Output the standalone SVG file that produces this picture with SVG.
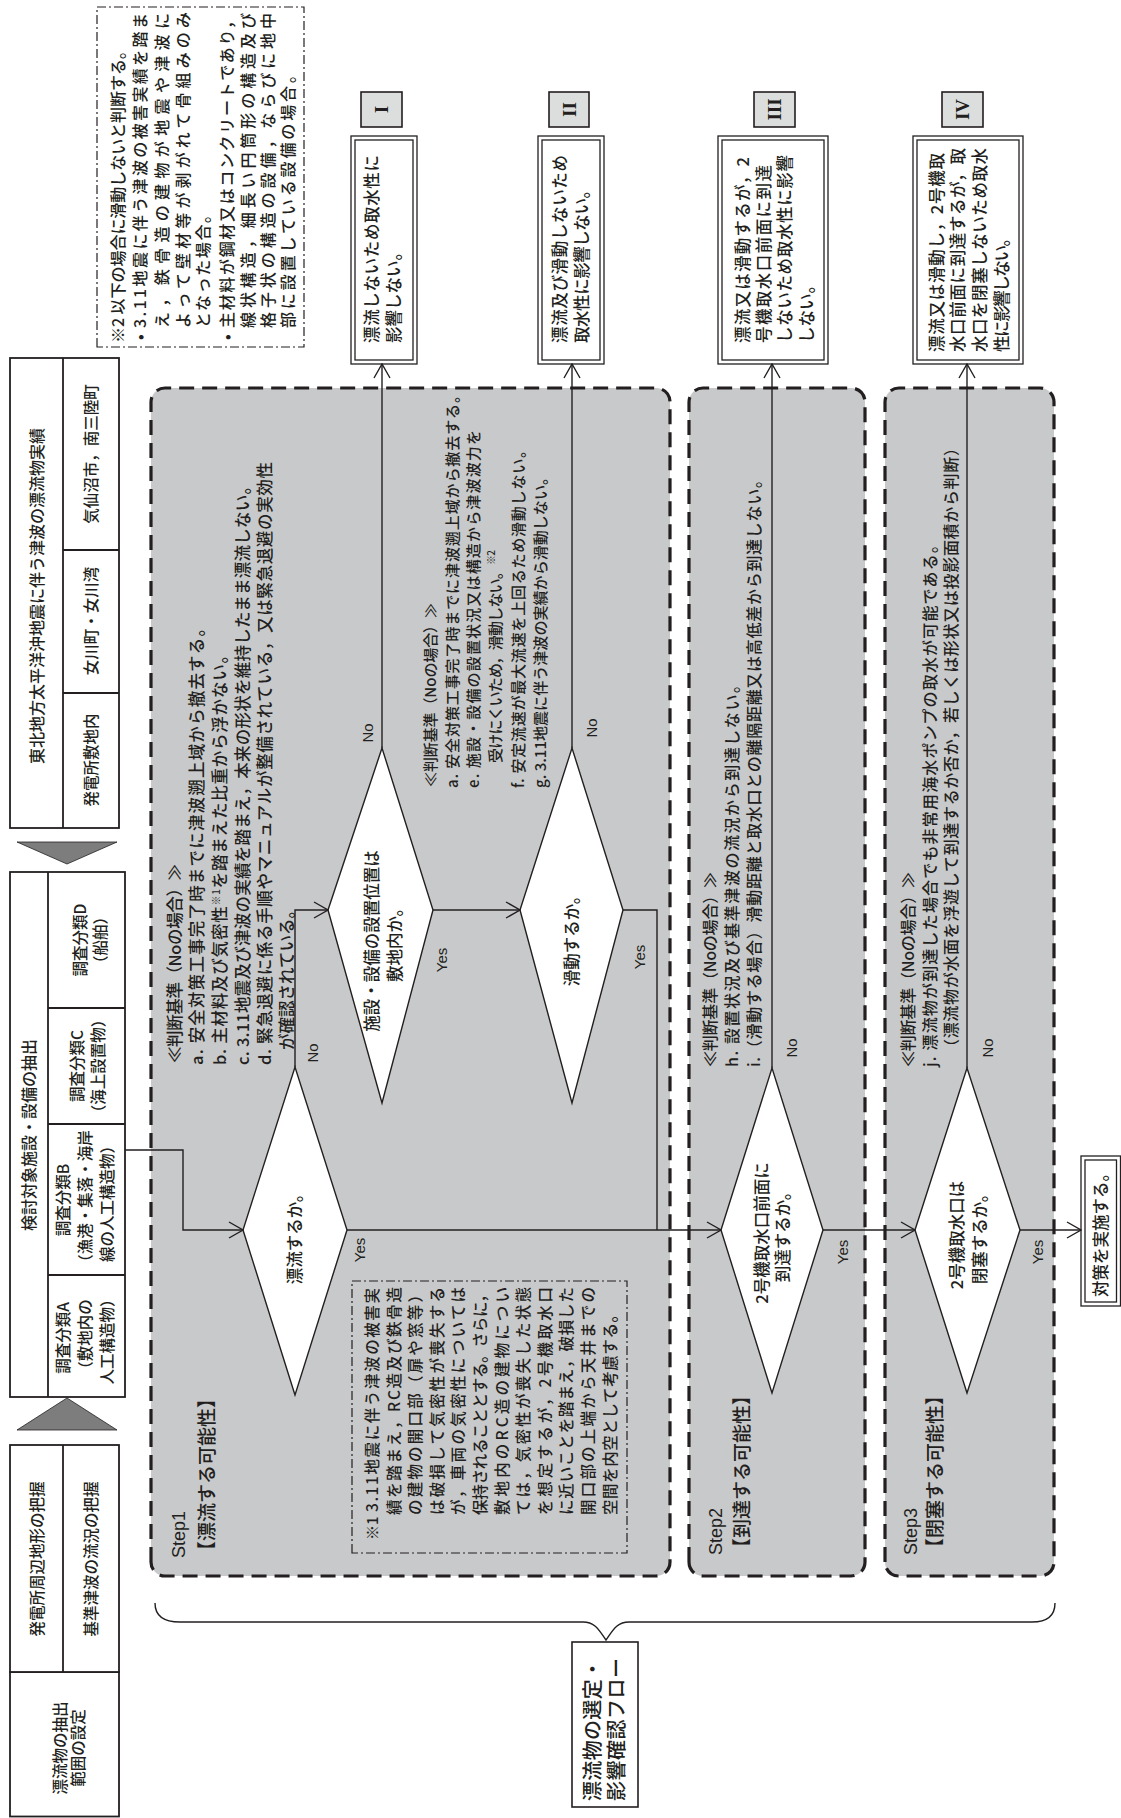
<svg xmlns="http://www.w3.org/2000/svg" width="1121" height="1818" viewBox="0 0 1121 1818">
<defs>
<style>
text{font-family:"Noto Sans CJK JP","Noto Sans",sans-serif;fill:#231f20;font-size:16px;font-weight:500}
.lat{font-family:"Liberation Sans",Arial,sans-serif;font-size:15px;font-weight:normal}
.mid{text-anchor:middle}
.tb{fill:#fff;stroke:#231f20;stroke-width:1.8}
.ln{fill:none;stroke:#231f20;stroke-width:1.8}
.panel{fill:#c8c9ca;stroke:#231f20;stroke-width:3.2;stroke-dasharray:15 8}
.dia{fill:#fff;stroke:#231f20;stroke-width:1.4}
.note{fill:none;stroke:#231f20;stroke-width:1.2;stroke-dasharray:9 3 2 3}
.bx{fill:#fff;stroke:#231f20;stroke-width:1.3}
.bxi{fill:none;stroke:#231f20;stroke-width:1.3}
.lab{fill:#dcdddd;stroke:#231f20;stroke-width:1.6}
.tri{fill:#7d7d7d;stroke:#231f20;stroke-width:0.8}
.con{fill:none;stroke:#231f20;stroke-width:1.4}
.rom{font-family:"Liberation Serif","Times New Roman",serif;font-size:19px;font-weight:bold;text-anchor:middle}
.sup{font-size:10px}
</style>
<marker id="ah" viewBox="0 0 16 18" refX="15" refY="9" markerWidth="16" markerHeight="18" markerUnits="userSpaceOnUse" orient="auto">
<path d="M1,1 L15,9 L1,17" fill="none" stroke="#231f20" stroke-width="1.4"/>
</marker>
</defs>
<rect width="1121" height="1818" fill="#fff"/>
<g transform="translate(0,1818) rotate(-90)">

<!-- panels -->
<g id="step1">
<rect class="panel" x="242" y="151" width="1188" height="519" rx="14"/>
<text x="260" y="185" class="lat" style="font-size:18px">Step1</text>
<text x="258" y="214" style="font-size:19px">【漂流する可能性】</text>
</g>
<g id="step2">
<rect class="panel" x="242" y="689" width="1188" height="176" rx="14"/>
<text x="263" y="722" class="lat" style="font-size:18px">Step2</text>
<text x="261" y="749" style="font-size:19px">【到達する可能性】</text>
</g>
<g id="step3">
<rect class="panel" x="242" y="885" width="1188" height="169" rx="14"/>
<text x="263" y="917" class="lat" style="font-size:18px">Step3</text>
<text x="261" y="942" style="font-size:19px">【閉塞する可能性】</text>
</g>

<!-- brace and title -->
<g id="brace">
<path class="con" d="M215,155 Q196,155 196,180 L196,583 C196,596 186,600 178,606 C186,612 196,616 196,629 L196,1032 Q196,1055 215,1055"/>
</g>
<g id="title">
<rect class="tb" x="11" y="572" width="165" height="66" style="stroke-width:1.6"/>
<text x="17" y="600" style="font-size:20px" textLength="142">漂流物の選定・</text>
<text x="17" y="624" style="font-size:20px" textLength="143">影響確認フロー</text>
</g>

<!-- tables -->
<g id="range">
<rect class="tb" x="1.5" y="10" width="144.5" height="109"/>
<text x="70" y="66" class="mid" style="font-size:15.5px">漂流物の抽出</text>
<text x="70" y="84" class="mid" style="font-size:15.5px">範囲の設定</text>
</g>
<g id="grasp">
<rect class="tb" x="146" y="10" width="227" height="109"/>
<line class="ln" x1="146" y1="63" x2="373" y2="63"/>
<text x="259" y="43" class="mid" style="font-size:15.5px">発電所周辺地形の把握</text>
<text x="259" y="97" class="mid" style="font-size:15.5px">基準津波の流況の把握</text>
</g>
<polygon class="tri" points="388,17 388,117 420,67"/>
<g id="extract">
<rect class="tb" x="421" y="10" width="525" height="115"/>
<line class="ln" x1="421" y1="48" x2="946" y2="48"/>
<line class="ln" x1="543" y1="48" x2="543" y2="125"/>
<line class="ln" x1="694" y1="48" x2="694" y2="125"/>
<line class="ln" x1="810" y1="48" x2="810" y2="125"/>
<text x="683" y="35" class="mid">検討対象施設・設備の抽出</text>
<text x="480" y="69" class="mid" style="font-size:15.5px">調査分類A</text>
<text x="480" y="91" class="mid" style="font-size:15.5px">（敷地内の</text>
<text x="480" y="113" class="mid" style="font-size:15.5px">人工構造物）</text>
<text x="618" y="69" class="mid" style="font-size:15.5px">調査分類B</text>
<text x="618" y="91" class="mid" style="font-size:15.5px">（漁港・集落・海岸</text>
<text x="618" y="113" class="mid" style="font-size:15.5px">線の人工構造物）</text>
<text x="752" y="83" class="mid" style="font-size:15.5px">調査分類C</text>
<text x="752" y="104" class="mid" style="font-size:15.5px">（海上設置物）</text>
<text x="878" y="86" class="mid" style="font-size:15.5px">調査分類D</text>
<text x="878" y="106" class="mid" style="font-size:15.5px">（船舶）</text>
</g>
<polygon class="tri" points="976,17 976,117 954,67"/>
<g id="record">
<rect class="tb" x="990" y="10" width="470" height="109"/>
<line class="ln" x1="990" y1="63" x2="1460" y2="63"/>
<line class="ln" x1="1125" y1="63" x2="1125" y2="119"/>
<line class="ln" x1="1268" y1="63" x2="1268" y2="119"/>
<text x="1222" y="43" class="mid">東北地方太平洋沖地震に伴う津波の漂流物実績</text>
<text x="1058" y="97" class="mid" style="font-size:15.5px">発電所敷地内</text>
<text x="1197" y="97" class="mid" style="font-size:15.5px">女川町・女川湾</text>
<text x="1364" y="97" class="mid" style="font-size:15.5px">気仙沼市，南三陸町</text>
</g>

<!-- note 2 -->
<g id="note2">
<rect class="note" x="1471" y="97" width="340" height="207"/>
<text x="1475" y="124" textLength="300">※2 以下の場合に滑動しないと判断する。</text>
<text x="1478" y="146">•</text>
<text x="1490" y="146" textLength="315">3.11地震に伴う津波の被害実績を踏ま</text>
<text x="1490" y="168" textLength="315">え，鉄骨造の建物が地震や津波に</text>
<text x="1490" y="189" textLength="316">よって壁材等が剥がれて骨組みのみ</text>
<text x="1490" y="209" textLength="121">となった場合。</text>
<text x="1478" y="233">•</text>
<text x="1490" y="233" textLength="315">主材料が鋼材又はコンクリートであり，</text>
<text x="1490" y="254" textLength="315">線状構造，細長い円筒形の構造及び</text>
<text x="1490" y="274" textLength="315">格子状の構造の設備，ならびに地中</text>
<text x="1490" y="294" textLength="261">部に設置している設備の場合。</text>
</g>

<!-- note 1 -->
<g id="note1">
<rect class="note" x="265" y="352" width="272" height="275"/>
<text x="278" y="378" style="font-size:15px">※1</text>
<text x="306" y="378" style="font-size:15.5px" textLength="224">3.11地震に伴う津波の被害実</text>
<text x="303" y="399.6" style="font-size:15.5px" textLength="228">績を踏まえ，RC造及び鉄骨造</text>
<text x="303" y="421.2" style="font-size:15.5px" textLength="228">の建物の開口部（扉や窓等）</text>
<text x="303" y="442.8" style="font-size:15.5px" textLength="228">は破損して気密性が喪失する</text>
<text x="303" y="464.4" style="font-size:15.5px" textLength="228">が，車両の気密性については</text>
<text x="303" y="486" style="font-size:15.5px" textLength="228">保持されることとする。さらに，</text>
<text x="303" y="507.6" style="font-size:15.5px" textLength="228">敷地内のRC造の建物につい</text>
<text x="303" y="529.2" style="font-size:15.5px" textLength="228">ては，気密性が喪失した状態</text>
<text x="303" y="550.8" style="font-size:15.5px" textLength="228">を想定するが，2号機取水口</text>
<text x="303" y="572.4" style="font-size:15.5px" textLength="228">に近いことを踏まえ，破損した</text>
<text x="303" y="594" style="font-size:15.5px" textLength="228">開口部の上端から天井までの</text>
<text x="303" y="615.6" style="font-size:15.5px" textLength="208">空間を内空として考慮する。</text>
</g>

<!-- criteria -->
<g id="crit1">
<text x="755" y="181" style="font-size:16.5px" textLength="199">≪判断基準（Noの場合）≫</text>
<text x="753" y="203" style="font-size:16.5px" textLength="445">a. 安全対策工事完了時までに津波遡上域から撤去する。</text>
<text x="753" y="226" style="font-size:16.5px" textLength="418">b. 主材料及び気密性<tspan class="sup" dy="-6">※1</tspan><tspan dy="6">を踏まえた比重から浮かない。</tspan></text>
<text x="753" y="249" style="font-size:16.5px" textLength="587">c. 3.11地震及び津波の実績を踏まえ，本来の形状を維持したまま漂流しない。</text>
<text x="753" y="271" style="font-size:16.5px" textLength="603">d. 緊急退避に係る手順やマニュアルが整備されている，又は緊急退避の実効性</text>
<text x="768" y="293" style="font-size:16.5px" textLength="148">が確認されている。</text>
</g>
<g id="crit2">
<text x="1031" y="435.5" style="font-size:15px" textLength="184">≪判断基準（Noの場合）≫</text>
<text x="1030" y="457.5" style="font-size:15px" textLength="400">a. 安全対策工事完了時までに津波遡上域から撤去する。</text>
<text x="1030" y="479" style="font-size:15px" textLength="358">e. 施設・設備の設置状況又は構造から津波波力を</text>
<text x="1055" y="501" style="font-size:15px" textLength="213">受けにくいため，滑動しない。<tspan class="sup" dy="-6">※2</tspan></text>
<text x="1030" y="524" style="font-size:15px" textLength="345">f. 安定流速が最大流速を上回るため滑動しない。</text>
<text x="1030" y="546" style="font-size:15px" textLength="318">g. 3.11地震に伴う津波の実績から滑動しない。</text>
</g>
<g id="crit3">
<text x="751" y="716" textLength="195">≪判断基準（Noの場合）≫</text>
<text x="751" y="738" textLength="390">h. 設置状況及び基準津波の流況から到達しない。</text>
<text x="751" y="760" textLength="595">i.（滑動する場合）滑動距離と取水口との離隔距離又は高低差から到達しない。</text>
</g>
<g id="crit4">
<text x="751" y="914" textLength="195">≪判断基準（Noの場合）≫</text>
<text x="751" y="936" textLength="530">j. 漂流物が到達した場合でも非常用海水ポンプの取水が可能である。</text>
<text x="763" y="957" textLength="615">（漂流物が水面を浮遊して到達するか否か，若しくは形状又は投影面積から判断）</text>
</g>

<!-- diamonds -->
<g id="d1">
<polygon class="dia" points="423,295 588,243 751,295 588,347"/>
<text x="583" y="301" class="mid" style="font-size:16.5px">漂流するか。</text>
</g>
<g id="d2">
<polygon class="dia" points="715,382 908,328 1070,382 908,433"/>
<text x="877" y="378" class="mid" style="font-size:16.5px">施設・設備の設置位置は</text>
<text x="877" y="401" class="mid" style="font-size:16.5px">敷地内か。</text>
</g>
<g id="d3">
<polygon class="dia" points="715,572 908,520 1070,572 908,623"/>
<text x="881" y="578" class="mid" style="font-size:16.5px">滑動するか。</text>
</g>
<g id="d4">
<polygon class="dia" points="425,772 588,721 750,772 588,823"/>
<text x="585" y="768" class="mid" style="font-size:16.5px">2号機取水口前面に</text>
<text x="585" y="789" class="mid" style="font-size:16.5px">到達するか。</text>
</g>
<g id="d5">
<polygon class="dia" points="425,967 588,915 750,967 588,1020"/>
<text x="583" y="963" class="mid" style="font-size:16.5px">2号機取水口は</text>
<text x="583" y="986" class="mid" style="font-size:16.5px">閉塞するか。</text>
</g>

<!-- result boxes -->
<g id="r1">
<rect class="bx" x="1454" y="351" width="228" height="66"/>
<rect class="bxi" x="1458" y="355" width="220" height="58"/>
<text x="1475" y="378" style="font-size:16.5px" textLength="188">漂流しないため取水性に</text>
<text x="1475" y="400" style="font-size:16.5px">影響しない。</text>
<rect class="lab" x="1691" y="361" width="35" height="41"/>
<text x="1708.5" y="388" class="rom">I</text>
</g>
<g id="r2">
<rect class="bx" x="1454" y="538" width="228" height="66"/>
<rect class="bxi" x="1458" y="542" width="220" height="58"/>
<text x="1475" y="566" style="font-size:16.5px" textLength="188">漂流及び滑動しないため</text>
<text x="1475" y="588" style="font-size:16.5px" textLength="161">取水性に影響しない。</text>
<rect class="lab" x="1691" y="549" width="35" height="40"/>
<text x="1708.5" y="576" class="rom">II</text>
</g>
<g id="r3">
<rect class="bx" x="1454" y="718" width="228" height="110"/>
<rect class="bxi" x="1458" y="722" width="220" height="102"/>
<text x="1475" y="749" style="font-size:16.5px" textLength="186">漂流又は滑動するが，2</text>
<text x="1475" y="770" style="font-size:16.5px" textLength="178">号機取水口前面に到達</text>
<text x="1475" y="791" style="font-size:16.5px" textLength="188">しないため取水性に影響</text>
<text x="1475" y="813" style="font-size:16.5px">しない。</text>
<rect class="lab" x="1691" y="754" width="35" height="41"/>
<text x="1708.5" y="781" class="rom">III</text>
</g>
<g id="r4">
<rect class="bx" x="1454" y="913" width="228" height="110"/>
<rect class="bxi" x="1458" y="917" width="220" height="102"/>
<text x="1466" y="943" style="font-size:16.5px" textLength="199">漂流又は滑動し，2号機取</text>
<text x="1466" y="964" style="font-size:16.5px" textLength="204">水口前面に到達するが，取</text>
<text x="1466" y="986" style="font-size:16.5px" textLength="204">水口を閉塞しないため取水</text>
<text x="1466" y="1008" style="font-size:16.5px" textLength="122">性に影響しない。</text>
<rect class="lab" x="1691" y="942" width="35" height="41"/>
<text x="1708.5" y="969" class="rom">IV</text>
</g>
<g id="final">
<rect class="bx" x="512" y="1081" width="150" height="39.5"/>
<rect class="bxi" x="516" y="1085" width="142" height="31.5"/>
<text x="587" y="1107" class="mid" style="font-size:16.5px">対策を実施する。</text>
</g>

<!-- connectors -->
<g id="connectors">
<path class="con" d="M668,125 L668,183 L588,183 L588,243" marker-end="url(#ah)"/>
<path class="con" d="M751,295 L908,295 L908,328" marker-end="url(#ah)"/>
<path class="con" d="M1070,382 L1454,382" marker-end="url(#ah)"/>
<path class="con" d="M908,433 L908,520" marker-end="url(#ah)"/>
<path class="con" d="M1070,572 L1454,572" marker-end="url(#ah)"/>
<path class="con" d="M908,623 L908,657 L588,657"/>
<path class="con" d="M588,347 L588,721" marker-end="url(#ah)"/>
<path class="con" d="M750,772 L1454,772" marker-end="url(#ah)"/>
<path class="con" d="M588,823 L588,915" marker-end="url(#ah)"/>
<path class="con" d="M750,967 L1454,967" marker-end="url(#ah)"/>
<path class="con" d="M588,1020 L588,1081" marker-end="url(#ah)"/>
<text x="765" y="318" class="lat mid">No</text>
<text x="1085" y="373" class="lat mid">No</text>
<text x="1090" y="597" class="lat mid">No</text>
<text x="770" y="797" class="lat mid">No</text>
<text x="770" y="993" class="lat mid">No</text>
<text x="568" y="365" class="lat mid">Yes</text>
<text x="858" y="447" class="lat mid">Yes</text>
<text x="861" y="645" class="lat mid">Yes</text>
<text x="566" y="848" class="lat mid">Yes</text>
<text x="566" y="1043" class="lat mid">Yes</text>
</g>
</g>
</svg>
